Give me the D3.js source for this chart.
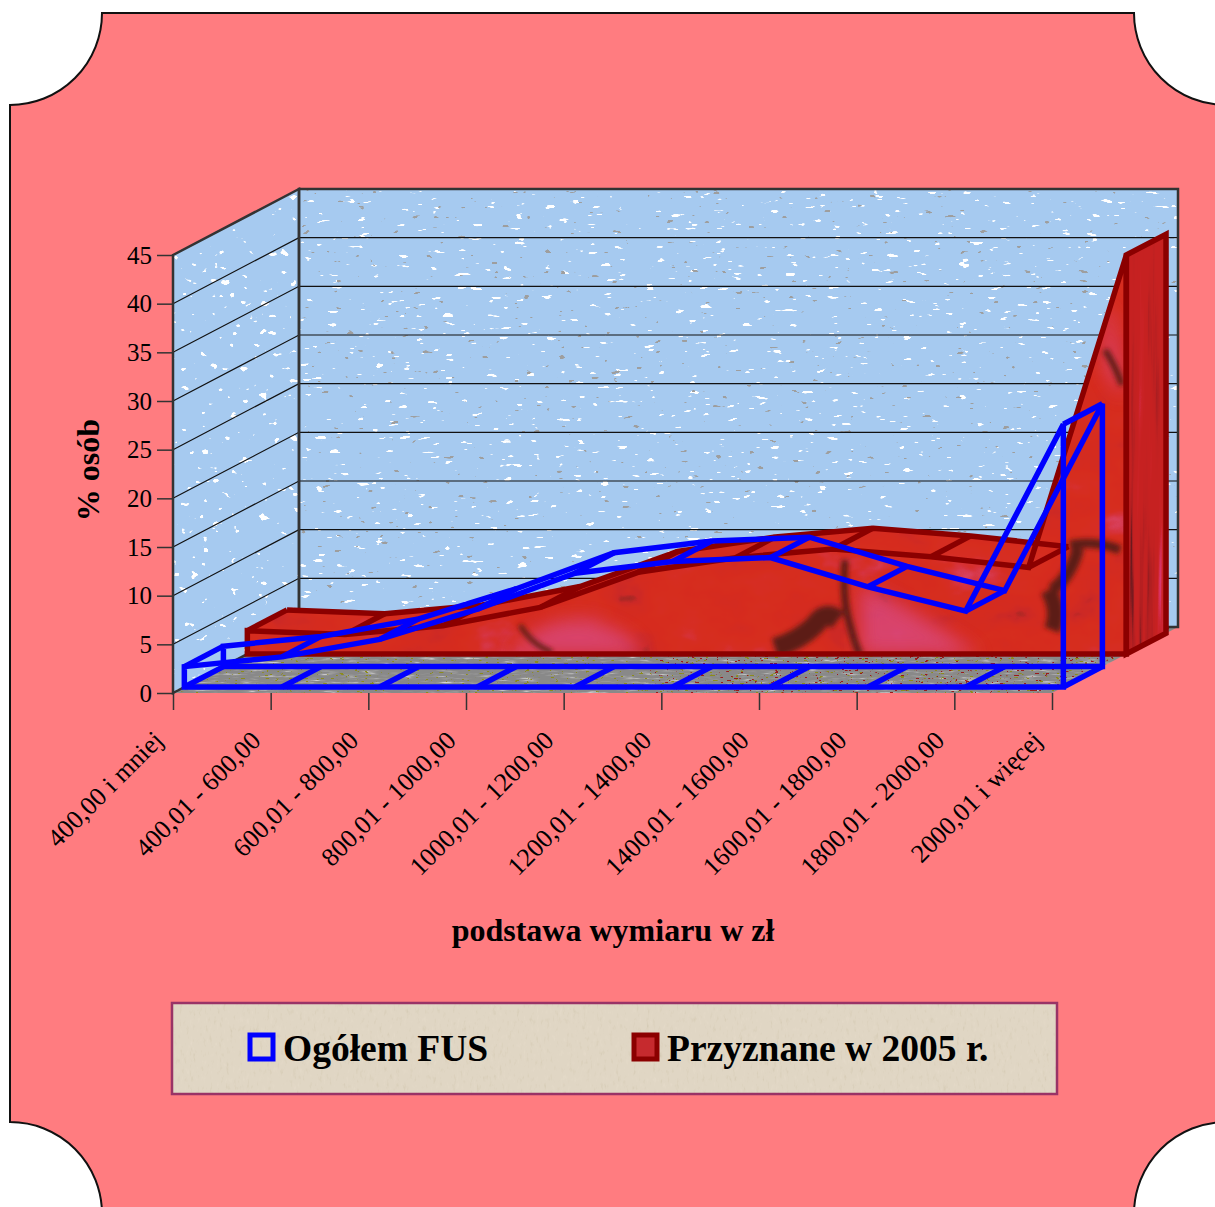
<!DOCTYPE html>
<html>
<head>
<meta charset="utf-8">
<script src="https://cdn.jsdelivr.net/npm/d3@7"></script>
<style>
  html, body { margin: 0; padding: 0; background: #fff; overflow: hidden; }
  svg { display: block; }
  text { font-family: "Liberation Serif", serif; fill: #000; }
</style>
</head>
<body>
<div id="chart"></div>
<script>
// data
var categories = ["400,00 i mniej", "400,01 - 600,00", "600,01 - 800,00", "800,01 - 1000,00",
  "1000,01 - 1200,00", "1200,01 - 1400,00", "1400,01 - 1600,00", "1600,01 - 1800,00",
  "1800,01 - 2000,00", "2000,01 i więcej"];
var ogolemFus = [2.1, 3.1, 4.9, 8.0, 11.7, 12.9, 13.3, 10.3, 7.8, 27.0];
var przyznane = [2.4, 2.0, 2.9, 4.8, 8.4, 9.9, 10.8, 10.0, 8.9, 41.0];
var valueTicks = [0, 5, 10, 15, 20, 25, 30, 35, 40, 45];
var seriesNames = ["Ogółem FUS", "Przyznane w 2005 r."];

var W = 1215, H = 1207;
var BLUE = "#0000ff", DARKRED = "#8b0000", GRID = "#111", EDGE = "#333";
var depthX = 126, depthY = 66;

var x = d3.scalePoint().domain(categories).range([173, 1052]);
var y = d3.scaleLinear().domain([0, 45]).range([693, 255]);

// 3d projection: z runs 0 (front of floor) to 1 (back wall)
function pt(cat, val, z) { return [x(cat) + z * depthX, y(val) - z * depthY]; }
var line = d3.line();

var svg = d3.select("#chart").append("svg").attr("width", W).attr("height", H);
var defs = svg.append("defs");

// ---- textures, all feTurbulence so they stay plain vector page content ----
function speckFilter(id, freq, seed, rgb, k, t) {
  var f = defs.append("filter").attr("id", id).attr("x", 0).attr("y", 0)
    .attr("width", "100%").attr("height", "100%")
    .attr("color-interpolation-filters", "sRGB");
  f.append("feTurbulence").attr("type", "fractalNoise").attr("baseFrequency", freq)
    .attr("numOctaves", 2).attr("seed", seed);
  f.append("feColorMatrix").attr("type", "matrix").attr("values",
    "0 0 0 0 " + rgb[0] + " 0 0 0 0 " + rgb[1] + " 0 0 0 0 " + rgb[2] + " " + k + " 0 0 0 " + t);
}
function tableFilter(id, freq, octaves, seed, r, g, b) {
  var f = defs.append("filter").attr("id", id).attr("x", 0).attr("y", 0)
    .attr("width", "100%").attr("height", "100%")
    .attr("color-interpolation-filters", "sRGB");
  f.append("feTurbulence").attr("type", "fractalNoise").attr("baseFrequency", freq)
    .attr("numOctaves", octaves).attr("seed", seed);
  f.append("feColorMatrix").attr("type", "matrix")
    .attr("values", "1 0 0 0 0 1 0 0 0 0 1 0 0 0 0 0 0 0 0 1");
  var c = f.append("feComponentTransfer");
  c.append("feFuncR").attr("type", "table").attr("tableValues", r);
  c.append("feFuncG").attr("type", "table").attr("tableValues", g);
  c.append("feFuncB").attr("type", "table").attr("tableValues", b);
}
speckFilter("speckW", "0.07 0.22", 4, [1, 1, 1], 34, -24.4);
speckFilter("speckG", "0.09 0.2", 11, [0.62, 0.62, 0.62], 34, -26);
speckFilter("speckL", "0.1 0.14", 7, [1, 1, 1], 34, -24);
tableFilter("redTex", "0.015 0.022", 4, 8,
  ".42 .55 .8 .83 .84 .84 .84 .84 .85 .85",
  ".16 .16 .16 .17 .17 .18 .18 .2 .26 .32",
  ".12 .14 .15 .13 .12 .12 .14 .24 .38 .48");
tableFilter("endTex", "0.14 0.004", 3, 5,
  ".3 .42 .68 .76 .78 .78 .8 .85 .85",
  ".1 .1 .12 .13 .13 .13 .14 .2 .3",
  ".12 .12 .13 .13 .13 .13 .16 .4 .6");
tableFilter("floorTex", "0.05 0.5", 3, 3,
  ".5 .54 .54 .54 .6 .8 .9",
  ".5 .54 .54 .54 .6 .8 .9",
  ".5 .54 .54 .54 .6 .8 .9");
speckFilter("fleck", "0.2 0.6", 9, [0.6, 0.1, 0.1], 30, -20.5);
speckFilter("fleckO", "0.2 0.6", 21, [0.55, 0.55, 0.1], 30, -20.5);
tableFilter("paperTex", "0.3 0.12", 3, 2,
  ".82 .86 .88 .88 .89 .9", ".78 .82 .84 .84 .85 .86", ".7 .74 .77 .77 .78 .8");
defs.append("filter").attr("id", "soft").append("feGaussianBlur").attr("stdDeviation", 2.5);
defs.append("filter").attr("id", "softer").attr("x", "-30%").attr("y", "-30%").attr("width", "160%").attr("height", "160%")
  .append("feGaussianBlur").attr("stdDeviation", 9);

function clip(id, pts) {
  defs.append("clipPath").attr("id", id).append("path").attr("d", line(pts) + "Z");
}

// ---- panel with scooped corners ----
var L = 10, T = 13, R = 1226, B = 1214, C = 92;
svg.append("path")
  .attr("d", "M" + (L + C) + "," + T + "H" + (R - C) +
    "A" + C + "," + C + " 0 0 0 " + R + "," + (T + C) + "V" + (B - C) +
    "A" + C + "," + C + " 0 0 0 " + (R - C) + "," + B + "H" + (L + C) +
    "A" + C + "," + C + " 0 0 0 " + L + "," + (B - C) + "V" + (T + C) +
    "A" + C + "," + C + " 0 0 0 " + (L + C) + "," + T + "Z")
  .attr("fill", "#ff7c80").attr("stroke", "#111").attr("stroke-width", 2);

// ---- walls and floor ----
var first = categories[0], last = categories[categories.length - 1];
var backWall = [pt(first, 45, 1), pt(last, 45, 1), pt(last, 0, 1), pt(first, 0, 1)];
var sideWall = [pt(first, 45, 0), pt(first, 45, 1), pt(first, 0, 1), pt(first, 0, 0)];
var floor = [pt(first, 0, 0), pt(last, 0, 0), pt(last, 0, 1), pt(first, 0, 1)];
clip("clipBack", backWall);
clip("clipSide", sideWall);
clip("clipFloor", floor);

function texRect(g, filter, bx, by, bw, bh) {
  g.append("rect").attr("x", bx).attr("y", by).attr("width", bw).attr("height", bh)
    .attr("filter", "url(#" + filter + ")");
}
var back = svg.append("g").attr("clip-path", "url(#clipBack)");
back.append("rect").attr("x", 299).attr("y", 187).attr("width", 879).attr("height", 441).attr("fill", "#a6caf0");
texRect(back, "speckW", 299, 187, 879, 441);
texRect(back, "speckG", 299, 187, 879, 441);

var side = svg.append("g").attr("clip-path", "url(#clipSide)");
side.append("rect").attr("x", 173).attr("y", 187).attr("width", 126).attr("height", 506).attr("fill", "#a6caf0");
texRect(side, "speckL", 173, 187, 126, 506);

var fl = svg.append("g").attr("clip-path", "url(#clipFloor)");
texRect(fl, "floorTex", 173, 627, 1005, 66);
texRect(fl, "fleck", 650, 627, 528, 66);
texRect(fl, "fleckO", 173, 627, 1005, 66);

// gridlines on both walls
var grid = svg.append("g").attr("fill", "none").attr("stroke", GRID).attr("stroke-width", 1.2);
valueTicks.slice(1, -1).forEach(function(v) {
  grid.append("path").attr("d", line([pt(first, v, 0), pt(first, v, 1), pt(last, v, 1)]));
});
svg.append("path").attr("d", line(backWall) + "Z").attr("fill", "none").attr("stroke", EDGE).attr("stroke-width", 2.5);
svg.append("path").attr("d", line(sideWall) + "Z").attr("fill", "none").attr("stroke", EDGE).attr("stroke-width", 2.5);

// ---- Przyznane w 2005 r. (back row, solid) ----
var rz0 = 0.59, rz1 = 0.905;
var rFront = categories.map(function(c, i) { return pt(c, przyznane[i], rz0); });
var rBack = categories.map(function(c, i) { return pt(c, przyznane[i], rz1); });
var rBase = [pt(first, 0, rz0), pt(last, 0, rz0)];
var rEnd = [pt(last, przyznane[9], rz0), pt(last, przyznane[9], rz1), pt(last, 0, rz1), pt(last, 0, rz0)];
var rFace = [rBase[0]].concat(rFront, [rBase[1]]);
var rTop = rFront.concat(rBack.slice().reverse());

clip("clipRedTop", rTop);
clip("clipRedFace", rFace);
clip("clipRedEnd", rEnd);

var topG = svg.append("g").attr("clip-path", "url(#clipRedTop)");
texRect(topG, "redTex", 240, 220, 940, 440);
var endG = svg.append("g").attr("clip-path", "url(#clipRedEnd)");
texRect(endG, "endTex", 1120, 230, 50, 430);

var faceG = svg.append("g").attr("clip-path", "url(#clipRedFace)");
texRect(faceG, "redTex", 240, 240, 900, 420);
// the large pink and brown patches of the original photo fill
var pink = faceG.append("g").attr("fill", "#d9487f").attr("filter", "url(#softer)").attr("opacity", 0.8);
pink.append("path").attr("d", "M510,655 Q540,615 590,620 Q640,635 640,655 Z");
pink.append("path").attr("d", "M860,585 Q900,600 980,655 L860,655 Z");
pink.append("path").attr("d", "M1105,300 Q1120,330 1122,400 L1105,370 Z");
var brown = faceG.append("g").attr("fill", "none").attr("stroke", "#5c1c14").attr("filter", "url(#soft)");
brown.append("path").attr("stroke-width", 7).attr("d", "M845,560 Q842,600 850,625 Q855,645 860,655");
brown.append("path").attr("stroke-width", 20).attr("d", "M775,648 Q800,640 815,625 Q825,610 838,620");
brown.append("path").attr("stroke-width", 5).attr("d", "M520,625 Q532,645 552,652");
brown.append("path").attr("stroke-width", 16).attr("d", "M1048,590 Q1060,610 1052,630");
brown.append("path").attr("stroke-width", 9).attr("d", "M1070,545 Q1095,540 1120,550");
brown.append("path").attr("stroke-width", 12).attr("d", "M1078,548 Q1072,575 1052,590");
brown.append("path").attr("stroke-width", 6).attr("d", "M1105,350 Q1115,365 1122,385");

var redLines = svg.append("g").attr("fill", "none").attr("stroke", DARKRED)
  .attr("stroke-width", 5.5).attr("stroke-linejoin", "miter");
redLines.append("path").attr("d", line(rBack.slice(0, 9)));
rFront.forEach(function(p, i) {
  if (i < 9) redLines.append("path").attr("d", line([p, rBack[i]]));
});
redLines.append("path").attr("d", line(rFace) + "Z");
redLines.append("path").attr("d", line(rEnd) + "Z");

// ---- Ogółem FUS (front row, wire frame only) ----
var bz0 = 0.09, bz1 = 0.4;
var bFront = categories.map(function(c, i) { return pt(c, ogolemFus[i], bz0); });
var bBack = categories.map(function(c, i) { return pt(c, ogolemFus[i], bz1); });
var blue = svg.append("g").attr("fill", "none").attr("stroke", BLUE)
  .attr("stroke-width", 5.5).attr("stroke-linejoin", "miter");
blue.append("path").attr("d", line([pt(first, 0, bz0)].concat(bFront, [pt(last, 0, bz0)])) + "Z");
blue.append("path").attr("d", line([pt(first, 0, bz1)].concat(bBack, [pt(last, 0, bz1)])) + "Z");
categories.forEach(function(c, i) {
  blue.append("path").attr("d", line([bFront[i], bBack[i]]));
  blue.append("path").attr("d", line([pt(c, 0, bz0), pt(c, 0, bz1)]));
});

// ---- axes ----
var yAxis = svg.append("g").attr("transform", "translate(173,0)")
  .call(d3.axisLeft(y).tickValues(valueTicks).tickSize(16).tickPadding(5));
yAxis.select(".domain").remove();
yAxis.selectAll("line").attr("stroke", "#333").attr("stroke-width", 1.5);
yAxis.selectAll("text").style("font-size", "25px").style("font-family", "Liberation Serif").attr("fill", "#000");

var xAxis = svg.append("g").attr("transform", "translate(0,693)")
  .call(d3.axisBottom(x).tickSize(17).tickSizeOuter(0));
xAxis.select(".domain").remove();
xAxis.selectAll("line").attr("stroke", "#333").attr("stroke-width", 1.5);
xAxis.selectAll("text")
  .style("font-size", "26px").style("font-family", "Liberation Serif").attr("fill", "#000")
  .attr("text-anchor", "end").attr("x", 0).attr("y", 0).attr("dy", 0)
  .attr("transform", "translate(-9,49) rotate(-45)");

// ---- titles ----
svg.append("text").attr("x", 613).attr("y", 941).attr("text-anchor", "middle")
  .style("font-size", "32px").style("font-weight", "bold").text("podstawa wymiaru w zł");
svg.append("text").attr("transform", "translate(99,470) rotate(-90)").attr("text-anchor", "middle")
  .style("font-size", "32px").style("font-weight", "bold").text("% osób");

// ---- legend ----
var leg = svg.append("g");
clip("clipLeg", [[172, 1003], [1057, 1003], [1057, 1094], [172, 1094]]);
leg.append("g").attr("clip-path", "url(#clipLeg)").call(function(g) { texRect(g, "paperTex", 172, 1003, 885, 91); });
leg.append("rect").attr("x", 172).attr("y", 1003).attr("width", 885).attr("height", 91)
  .attr("fill", "none").attr("stroke", "#993366").attr("stroke-width", 2.5);
leg.append("rect").attr("x", 250).attr("y", 1035).attr("width", 23).attr("height", 24)
  .attr("fill", "none").attr("stroke", BLUE).attr("stroke-width", 5);
leg.append("rect").attr("x", 634).attr("y", 1035).attr("width", 23).attr("height", 24)
  .attr("fill", "#c62a2e").attr("stroke", DARKRED).attr("stroke-width", 5);
leg.selectAll("text.name").data(seriesNames).enter().append("text").attr("class", "name")
  .attr("x", function(d, i) { return i === 0 ? 283 : 667; }).attr("y", 1061)
  .style("font-size", "37.5px").style("font-weight", "bold").text(function(d) { return d; });
</script>
</body>
</html>
